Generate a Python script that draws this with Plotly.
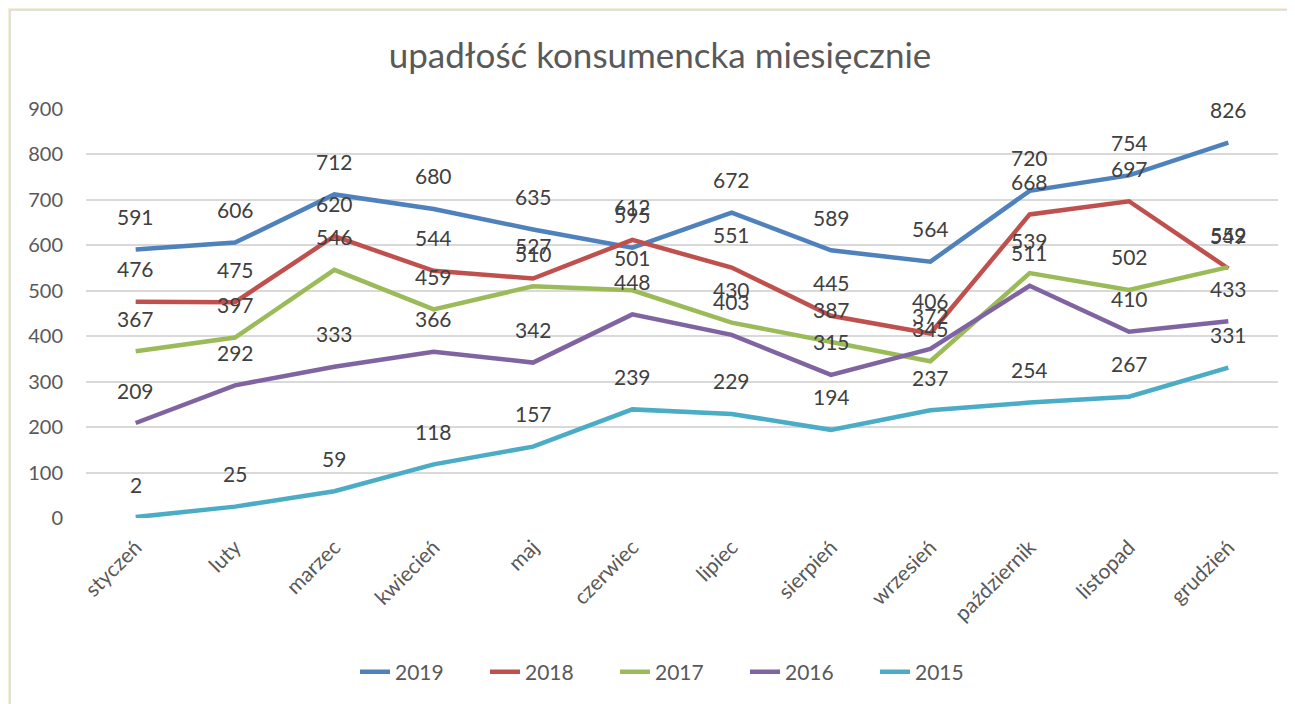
import plotly.graph_objects as go

months = ["styczeń", "luty", "marzec", "kwiecień", "maj", "czerwiec", "lipiec",
          "sierpień", "wrzesień", "październik", "listopad", "grudzień"]

y2019 = [591, 606, 712, 680, 635, 595, 672, 589, 564, 720, 754, 826]
y2018 = [476, 475, 620, 544, 527, 612, 551, 445, 406, 668, 697, 549]
y2017 = [367, 397, 546, 459, 510, 501, 430, 387, 345, 539, 502, 552]
y2016 = [209, 292, 333, 366, 342, 448, 403, 315, 372, 511, 410, 433]
y2015 = [2, 25, 59, 118, 157, 239, 229, 194, 237, 254, 267, 331]

series = [("2019", y2019, "#4F81BD"), ("2018", y2018, "#C0504D"),
          ("2017", y2017, "#9BBB59"), ("2016", y2016, "#8064A2"),
          ("2015", y2015, "#4BACC6")]

FONT = "Lato, 'Open Sans', sans-serif"
OFF = 8  # page offset of the figure in the screenshot

fig = go.Figure()
annotations = []
for name, vals, col in series:
    fig.add_trace(go.Scatter(x=months, y=vals, name=name, mode="lines",
                             line=dict(color=col, width=4.5)))
    for m, v in zip(months, vals):
        annotations.append(dict(x=m, y=v, text=str(v), showarrow=False,
                                yshift=33, yanchor="middle", xanchor="center",
                                font=dict(family=FONT, size=21, color="#404040")))

fig.update_layout(
    width=1295, height=704,
    margin=dict(l=86 - OFF, r=17 + OFF, t=109 - OFF, b=186 + OFF, autoexpand=False),
    paper_bgcolor="#F8EED3",
    plot_bgcolor="rgba(0,0,0,0)",
    title=dict(text="upadłość konsumencka miesięcznie", x=(660 - OFF) / 1295, xref="container",
               xanchor="center", y=1 - (56 - OFF) / 704, yref="container", yanchor="middle",
               font=dict(family=FONT, size=35, color="#595959")),
    font=dict(family=FONT, color="#595959"),
    showlegend=True,
    legend=dict(orientation="h", x=(680 - 86) / 1192, xanchor="center",
                y=(518 - 672) / 409, yanchor="middle",
                font=dict(family=FONT, size=21, color="#595959"),
                entrywidth=85, bgcolor="rgba(0,0,0,0)"),
    annotations=annotations,
    shapes=[dict(type="rect", xref="paper", yref="paper",
                 x0=(10 - 86) / 1192, x1=(1320 - 86) / 1192,
                 y0=(518 - 730) / 409, y1=(518 - 10) / 409,
                 fillcolor="white", line=dict(color="#D9D9D9", width=1.5),
                 layer="below")],
    xaxis=dict(tickangle=-45, range=[-0.5, 11.5], automargin=False,
               tickfont=dict(family=FONT, size=21, color="#595959"),
               showgrid=False, showline=False, ticks="", zeroline=False,
               ticklabelstandoff=12),
    yaxis=dict(range=[0, 900], dtick=100, automargin=False,
               tickfont=dict(family=FONT, size=20, color="#595959"),
               gridcolor="#D9D9D9", gridwidth=1.5, zeroline=False, showline=False,
               ticklabelstandoff=22),
)

fig.write_html("out.html")
